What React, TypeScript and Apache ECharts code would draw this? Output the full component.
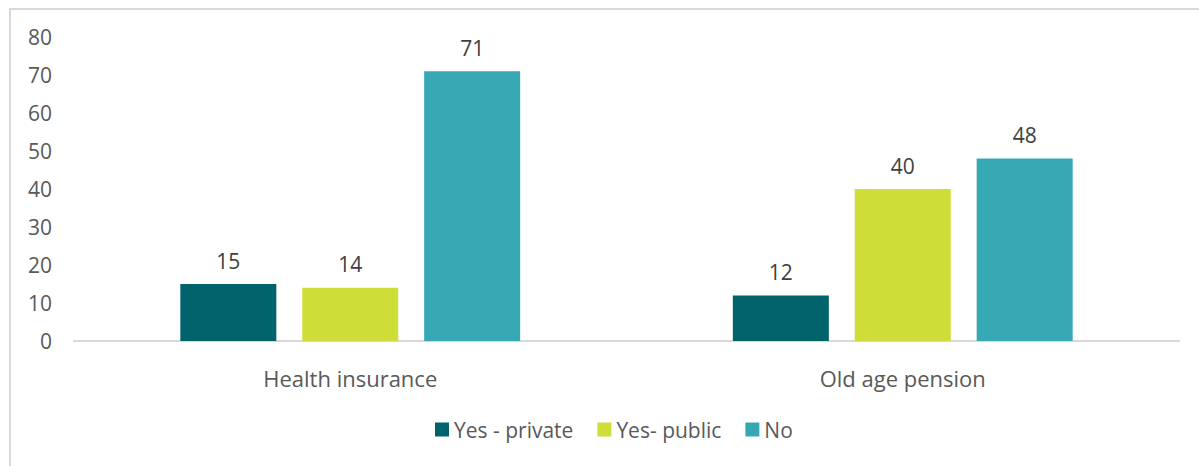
import React, { useEffect, useRef } from "react";
import * as echarts from "echarts";

const categories = ["Health insurance", "Old age pension"];
const seriesNames = ["Yes - private", "Yes- public", "No"];
const yesPrivate = [15, 12];
const yesPublic = [14, 40];
const noValues = [71, 48];
const colors = ["#00626A", "#CFDD38", "#36A8B4"];

export default function App() {
  const ref = useRef<HTMLDivElement>(null);
  useEffect(() => {
    document.body.style.margin = "0";
    const chart = echarts.init(ref.current!, undefined, { renderer: "svg" });
    const font = "Open Sans";
    const textColor = "#595959";
    const mk = (name: string, data: number[], color: string) => ({
      name,
      type: "bar",
      data,
      barWidth: 96,
      barGap: "27%",
      itemStyle: { color },
      label: {
        show: true,
        position: "top",
        distance: 13,
        color: "#404040",
        fontFamily: font,
        fontSize: 21,
      },
    });
    chart.setOption({
      animation: false,
      backgroundColor: "#ffffff",
      graphic: [
        {
          type: "rect",
          shape: { x: 10, y: 9, width: 1300, height: 600 },
          style: { fill: "none", stroke: "#d9d9d9", lineWidth: 2 },
          silent: true,
        },
      ],
      grid: { left: 74, right: 20, top: 37, bottom: 125, containLabel: false },
      legend: {
        top: 414,
        left: 430,
        itemWidth: 14,
        itemHeight: 14,
        itemGap: 24,
        icon: "rect",
        textStyle: { color: textColor, fontFamily: font, fontSize: 21 },
        data: seriesNames,
      },
      xAxis: {
        type: "category",
        data: categories,
        axisLine: { lineStyle: { color: "#d9d9d9", width: 2 } },
        axisTick: { show: false },
        axisLabel: { color: textColor, fontFamily: font, fontSize: 22, margin: 26 },
      },
      yAxis: {
        type: "value",
        min: 0,
        max: 80,
        interval: 10,
        splitLine: { show: false },
        axisLine: { show: false },
        axisTick: { show: false },
        axisLabel: { color: textColor, fontFamily: font, fontSize: 21, margin: 22 },
      },
      series: [
        mk(seriesNames[0], yesPrivate, colors[0]),
        mk(seriesNames[1], yesPublic, colors[1]),
        mk(seriesNames[2], noValues, colors[2]),
      ],
    });
    return () => chart.dispose();
  }, []);
  return <div ref={ref} style={{ width: 1199, height: 466 }} />;
}
